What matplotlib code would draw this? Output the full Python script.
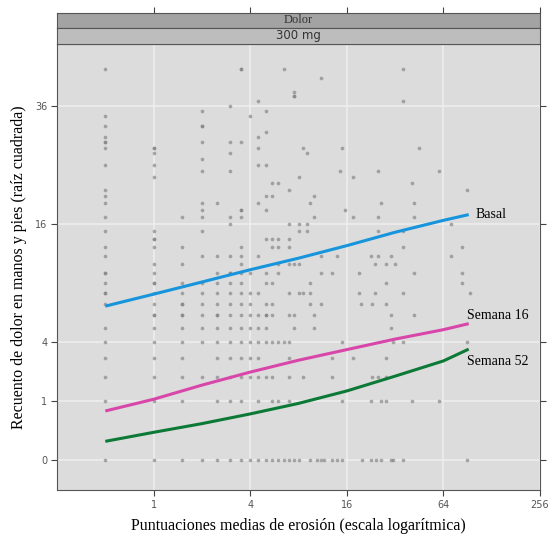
import numpy as np
import matplotlib
matplotlib.use('Agg')
import matplotlib.pyplot as plt

# puntos grises: recuento -> lista de puntuaciones medias de erosion
dot_rows = {
    44: [0.5, 3.5, 3.5, 6.5, 36],
    42: [11],
    39: [7.5],
    38: [7.5, 7.5],
    37: [4.5, 36],
    36: [3],
    35: [2, 5],
    34: [0.5, 4],
    32: [0.5, 2, 2],
    31: [5],
    30: [0.5, 4.5],
    29: [0.5, 0.5, 2, 3, 3.5],
    28: [0.5, 1, 1, 4.5, 8.5, 15, 45],
    27: [1, 3, 9],
    26: [2],
    25: [0.5, 1, 4.5, 5],
    24: [2, 3, 14.5, 25, 60],
    23: [1, 8, 17.5],
    22: [5.5, 6, 41],
    21: [0.5, 7, 90],
    20: [0.5, 5, 5.5, 10],
    19: [0.5, 2, 2.5, 4.5, 9.5, 26, 42],
    18: [2, 3.5, 3.5, 5, 15.5],
    17: [0.5, 1.5, 2, 3, 3.5, 10, 17.5, 25, 42],
    16: [3, 7, 8, 9, 71],
    15: [0.5, 1, 2, 8, 9, 25, 36],
    14: [1, 1, 5, 5.5, 6, 7],
    13: [0.5, 1, 1.5, 3.5, 5.5, 6, 7, 36, 83],
    12: [0.5, 2, 2.5, 3, 3.5, 4.5, 11, 14, 22.5, 25, 30, 71],
    11: [1, 1.5, 3.5, 6, 7, 7.5, 8, 24, 28, 32],
    10: [0.5, 0.5, 1, 2.5, 3, 3, 3.5, 4, 5, 6, 11, 13, 19, 42, 83],
    9: [0.5, 1, 1, 1.5, 2, 2.5, 3, 3.5, 5, 5.5, 9.5, 28, 83],
    8: [0.5, 0.5, 1, 1.5, 2, 2.5, 3, 3.5, 4, 4.5, 7, 8, 8.5, 9.5, 19, 24, 36, 94],
    7: [0.5, 1, 1.5, 1.5, 2, 2.5, 3, 3.5, 4, 5, 5.5, 9.5, 11, 19.5, 23, 28],
    6: [1, 1, 1.5, 1.5, 2, 2.5, 2.5, 3, 3.5, 4, 4.5, 5, 5, 5.5, 7, 7.5, 10, 30, 42],
    5: [0.5, 1, 1.5, 2, 2.5, 3, 3.5, 4, 4.5, 5, 7.5, 10, 30],
    4: [0.5, 1, 1.5, 2, 2.5, 3, 3.5, 4, 4.5, 5, 5.5, 6, 6.5, 7, 15, 31, 36, 90],
    3: [0.5, 1, 1.5, 2.5, 3, 3.5, 4, 4.5, 7, 13, 17.5, 28],
    2: [0.5, 1, 1.5, 2, 2.5, 3, 3.5, 4, 4.5, 5, 5.5, 7, 8.5, 13, 23, 25, 28],
    1: [0.5, 1, 1.5, 2.5, 3, 3.5, 4.5, 5.5, 6, 7, 15, 22.5, 26, 28, 41, 60],
    0: [0.5, 1, 1.5, 2, 2.5, 3, 3.5, 4, 4.5, 5, 5.5, 6, 6.5, 7, 7.5, 8, 9.5,
        10.5, 11, 11.5, 13, 14, 15, 20, 22.5, 24.5, 26, 30, 31, 36, 90],
}

# curvas suavizadas
line_x = [0.5, 1, 2, 4, 8, 16, 32, 64, 92]
basal = [6.8, 7.9, 9.1, 10.4, 11.7, 13.2, 14.9, 16.5, 17.3]
semana16 = [0.69, 1.06, 1.61, 2.22, 2.86, 3.50, 4.20, 4.88, 5.34]
semana52 = [0.10, 0.22, 0.38, 0.61, 0.92, 1.37, 2.02, 2.82, 3.53]

x_ticks = [1, 4, 16, 64, 256]
y_ticks = [0, 1, 4, 16, 36]

dot_x = [x for k, xs in dot_rows.items() for x in xs]
dot_y = [k for k, xs in dot_rows.items() for x in xs]


def fwd(v):
    v = np.asarray(v, dtype=float)
    return np.sign(v) * np.sqrt(np.abs(v))


def inv(s):
    s = np.asarray(s, dtype=float)
    return np.sign(s) * s ** 2


W, H = 548, 540
fig = plt.figure(figsize=(W / 100, H / 100), dpi=100)
L, R, T, B = 57, 540, 44, 490
ax = fig.add_axes([L / W, 1 - B / H, (R - L) / W, (B - T) / H])

ax.set_xscale('log', base=2)
ax.set_yscale('function', functions=(fwd, inv))
ax.set_xlim(0.25, 256)
ax.set_ylim(inv(-(B - 460) / 59), inv((460 - T) / 59))
ax.set_facecolor('#dcdcdc')

ax.set_xticks(x_ticks)
ax.set_xticklabels([str(t) for t in x_ticks])
ax.set_yticks(y_ticks)
ax.set_yticklabels([str(t) for t in y_ticks])
ax.minorticks_off()
ax.grid(True, color='#eeeeee', linewidth=1.2)
ax.set_axisbelow(True)
ax.tick_params(direction='out', length=4, width=0.8, color='#444444',
               labelsize=7, labelcolor='#555555', right=True, pad=3)

ax.scatter(dot_x, dot_y, s=7, color='#808080', alpha=0.65, linewidths=0, zorder=2)

serif = ['Liberation Serif', 'DejaVu Serif']
ax.plot(line_x, basal, color='#1694dc', lw=2.2, zorder=3, solid_capstyle='butt')
ax.plot(line_x, semana16, color='#d846aa', lw=2.2, zorder=3, solid_capstyle='butt')
ax.plot(line_x, semana52, color='#0c7a36', lw=2.2, zorder=3, solid_capstyle='butt')

ax.annotate('Basal', (line_x[-1], basal[-1]), xytext=(5, 0), textcoords='offset points',
            ha='left', va='center', fontsize=10, family=serif)
ax.annotate('Semana 16', (line_x[-1], semana16[-1]), xytext=(-1, 6), textcoords='offset points',
            ha='left', va='center', fontsize=10, family=serif)
ax.annotate('Semana 52', (line_x[-1], semana52[-1]), xytext=(-1, -9), textcoords='offset points',
            ha='left', va='center', fontsize=10, family=serif)

for sp in ax.spines.values():
    sp.set_color('#555555')
    sp.set_linewidth(0.8)

ax.set_xlabel('Puntuaciones medias de erosión (escala logarítmica)', fontsize=11.5,
              family=serif, labelpad=6)
ax.set_ylabel('Recuento de dolor en manos y pies (raíz cuadrada)', fontsize=11.5,
              family=serif, labelpad=6)

# tiras superiores estilo lattice
strips = [('Dolor', 12.5, 28, '#a3a3a3', serif, 9), ('300 mg', 28, 44, '#bdbdbd', ['DejaVu Sans'], 8.5)]
for label, top, bot, col, fam, fs in strips:
    sa = fig.add_axes([L / W, 1 - bot / H, (R - L) / W, (bot - top) / H])
    sa.set_facecolor(col)
    sa.set_xscale('log', base=2)
    sa.set_xlim(0.25, 256)
    sa.set_yticks([])
    sa.minorticks_off()
    if label == 'Dolor':
        sa.set_xticks(x_ticks)
        sa.tick_params(axis='x', bottom=False, labelbottom=False, top=True,
                       direction='out', length=4, width=0.8, color='#444444')
    else:
        sa.set_xticks([])
    for sp in sa.spines.values():
        sp.set_color('#555555')
        sp.set_linewidth(0.8)
    sa.text(0.5, 0.5, label, transform=sa.transAxes, ha='center', va='center',
            fontsize=fs, family=fam, color='#333333')

fig.savefig('out.png', dpi=100)
